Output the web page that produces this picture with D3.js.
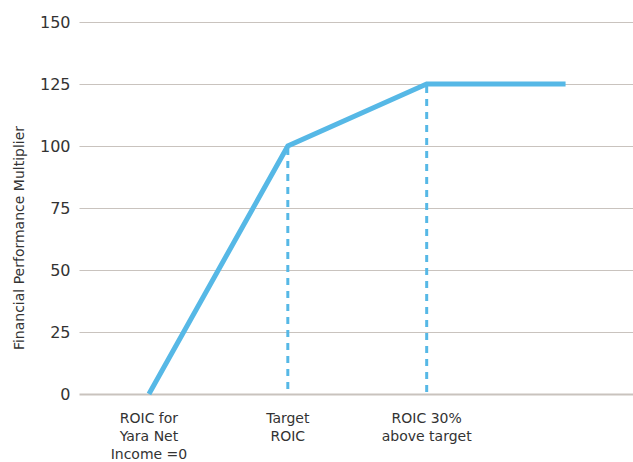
<!DOCTYPE html>
<html>
<head>
<meta charset="utf-8">
<script src="https://cdn.jsdelivr.net/npm/d3@7"></script>
<style>
  html, body { margin: 0; padding: 0; background: #fff; }
  svg { display: block; }
  text { fill: #333; }
</style>
</head>
<body>
<svg id="chart" width="633" height="462"></svg>
<script>
// Payout curve: multiplier reached at each ROIC level
const categories = ["zero", "target", "above", "cap"];
const categoryLabels = [
  ["ROIC for", "Yara Net", "Income =0"],
  ["Target", "ROIC"],
  ["ROIC 30%", "above target"],
  []
];
const multiplier = [0, 100, 125, 125];
const yTicks = [0, 25, 50, 75, 100, 125, 150];
// Reference levels marked with dashed drop lines
const markerCategories = ["target", "above"];
const yTitle = "Financial Performance Multiplier";

const svg = d3.select("#chart");
const margin = { top: 22, right: -2, bottom: 68, left: 79.5 };
const width = 633 - margin.left - margin.right;
const height = 462 - margin.top - margin.bottom;

const x = d3.scaleBand().domain(categories).range([margin.left, margin.left + width]);
const y = d3.scaleLinear().domain([0, 150]).range([margin.top + height, margin.top]);
const cx = c => x(c) + x.bandwidth() / 2;

// Horizontal gridlines with value labels
const yAxis = d3.axisLeft(y).tickValues(yTicks).tickSize(-(633 - margin.left)).tickPadding(9);
const gy = svg.append("g").attr("transform", `translate(${margin.left},0)`).call(yAxis);
gy.select(".domain").remove();
gy.selectAll(".tick line")
  .attr("stroke", "#c9c3be")
  .attr("stroke-width", d => d === 0 ? 2 : 1.2);
gy.selectAll(".tick text")
  .attr("font-family", "DejaVu Sans")
  .attr("font-size", 16)
  .attr("fill", "#333");

// Axis title
svg.append("text")
  .attr("transform", "translate(24,238) rotate(-90)")
  .attr("text-anchor", "middle")
  .attr("font-family", "DejaVu Sans")
  .attr("font-size", 14)
  .attr("fill", "#333")
  .text(yTitle);

// Dashed drop lines
svg.append("g").selectAll("line")
  .data(markerCategories)
  .join("line")
  .attr("x1", d => cx(d)).attr("x2", d => cx(d))
  .attr("y1", d => y(multiplier[categories.indexOf(d)]) + 2)
  .attr("y2", y(0))
  .attr("stroke", "#56b8e6")
  .attr("stroke-width", 3)
  .attr("stroke-dasharray", "7,6");

// Curve
const line = d3.line().x((d, i) => cx(categories[i])).y(d => y(d));
svg.append("path")
  .datum(multiplier)
  .attr("d", line)
  .attr("fill", "none")
  .attr("stroke", "#56b8e6")
  .attr("stroke-width", 5)
  .attr("stroke-linejoin", "miter");

// Category labels
const lab = svg.append("g").selectAll("text")
  .data(categories)
  .join("text")
  .attr("x", d => cx(d))
  .attr("y", 423)
  .attr("text-anchor", "middle")
  .attr("font-family", "DejaVu Sans")
  .attr("font-size", 14)
  .attr("fill", "#333");
lab.selectAll("tspan")
  .data((d, i) => categoryLabels[i])
  .join("tspan")
  .attr("x", function() { return this.parentNode.getAttribute("x"); })
  .attr("dy", (d, i) => i === 0 ? 0 : 18)
  .text(d => d);
</script>
</body>
</html>
